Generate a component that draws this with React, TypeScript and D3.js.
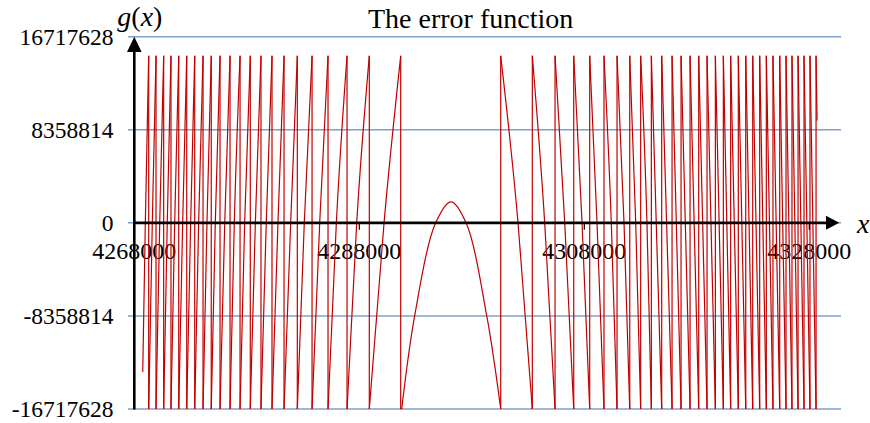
import React from "react";
import * as d3 from "d3";

// ---- data ----
const xTicks = [4268000, 4288000, 4308000, 4328000];
const yTicks = [-16717628, -8358814, 0, 8358814, 16717628];

const toothTop = 15000000;
const toothBottom = -16717628;

const startX = 4268750;
const startY = -13400000;

// x where the curve wraps (vertical drops) on the left of the arch
const leftWrapX = [
  4269280, 4269930, 4270610, 4271260, 4271950, 4272660, 4273370, 4274110,
  4274840, 4275620, 4276510, 4277400, 4278310, 4279260, 4280240, 4281310,
  4282490, 4283800, 4285220, 4286910, 4288890, 4291680,
];
// x where each rising tooth crosses g = 0
const leftCrossX = [
  4268980, 4269600, 4270260, 4270930, 4271590, 4272300, 4273010, 4273720,
  4274460, 4275200, 4276040, 4276890, 4277810, 4278760, 4279730, 4280770,
  4281900, 4283110, 4284480, 4285960, 4287770, 4290200,
];

// central arch
const archX = [4291770, 4292920, 4294790, 4296150, 4297490, 4299330, 4300570];
const archY = [-16717628, -8358814, 0, 1890000, 0, -8358814, -16717628];

// x where the curve wraps (vertical rises) on the right of the arch
const rightWrapX = [
  4300570, 4303380, 4305400, 4307060, 4308480, 4309750, 4310910, 4312040,
  4313010, 4313960, 4314880, 4315800, 4316600, 4317400, 4318170, 4318910,
  4319650, 4320360, 4321010, 4321690, 4322350, 4322970, 4323590, 4324180,
  4324770, 4325370, 4325930, 4326460, 4327000, 4327530, 4328060, 4328600,
];
// x where the wider falling teeth cross g = 0
const rightCrossX = [
  4302110, 4304480, 4306260, 4307800, 4309130, 4310400, 4311530, 4312570,
  4313570,
];

const endX = 4328690;
const endY = 9200000;

const titleText = "The error function";

export default function App() {
  const W = 870;
  const H = 423;
  const x = d3.scaleLinear().domain([4268000, 4328000]).range([134.3, 809.3]);
  const y = d3.scaleLinear().domain([-16717628, 16717628]).range([409, 36.7]);

  const font = "'Times New Roman', 'Liberation Serif', serif";
  const red = "#C00000";
  const grid = "#7F9FCC";

  const toothLine = d3
    .line<[number, number]>()
    .x((d) => x(d[0]))
    .y((d) => y(d[1]))
    .curve(d3.curveMonotoneX);
  const archLine = d3
    .line<[number, number]>()
    .x((d) => x(d[0]))
    .y((d) => y(d[1]))
    .curve(d3.curveCatmullRom);
  const straight = d3
    .line<[number, number]>()
    .x((d) => x(d[0]))
    .y((d) => y(d[1]));

  const paths: string[] = [];
  // left teeth
  leftWrapX.forEach((wx, i) => {
    const x0 = i === 0 ? startX : leftWrapX[i - 1];
    const y0 = i === 0 ? startY : toothBottom;
    const pts: [number, number][] = [
      [x0, y0],
      [leftCrossX[i], 0],
      [wx, toothTop],
    ];
    paths.push(toothLine(pts) as string);
    paths.push(straight([[wx, toothTop], [wx, toothBottom]]) as string);
  });
  // connect to arch
  paths.push(
    straight([
      [leftWrapX[leftWrapX.length - 1], toothBottom],
      [archX[0], archY[0]],
    ]) as string
  );
  paths.push(archLine(archX.map((v, i) => [v, archY[i]] as [number, number])) as string);
  // right teeth
  rightWrapX.forEach((wx, i) => {
    paths.push(straight([[wx, toothBottom], [wx, toothTop]]) as string);
    if (i < rightWrapX.length - 1) {
      const nx = rightWrapX[i + 1];
      const pts: [number, number][] =
        i < rightCrossX.length
          ? [
              [wx, toothTop],
              [rightCrossX[i], 0],
              [nx, toothBottom],
            ]
          : [
              [wx, toothTop],
              [nx, toothBottom],
            ];
      paths.push(toothLine(pts) as string);
    } else {
      paths.push(straight([[wx, toothTop], [endX, endY]]) as string);
    }
  });

  const axisY = y(0);
  const axisX = x(4268000);

  return (
    <svg
      width={W}
      height={H}
      style={{ position: "absolute", left: 0, top: 0, background: "#fff" }}
    >
      {/* grid */}
      {yTicks.map((t) => (
        <line
          key={"g" + t}
          x1={128}
          x2={841}
          y1={y(t)}
          y2={y(t)}
          stroke={grid}
          strokeWidth={1.5}
        />
      ))}
      {/* y tick labels */}
      {yTicks.map((t) => (
        <text
          key={"yl" + t}
          x={113.5}
          y={y(t) + 7.8}
          textAnchor="end"
          fontFamily={font}
          fontSize={23.5}
          fill="#000"
        >
          {String(t)}
        </text>
      ))}
      {/* x tick labels */}
      {xTicks.map((t) => (
        <text
          key={"xl" + t}
          x={x(t)}
          y={259.3}
          textAnchor="middle"
          fontFamily={font}
          fontSize={24}
          fill="#000"
        >
          {String(t)}
        </text>
      ))}
      {/* curve */}
      <g fill="none" stroke={red} strokeWidth={1.2}>
        {paths.map((d, i) => (
          <path key={i} d={d} />
        ))}
      </g>
      {/* axes */}
      <line x1={axisX} x2={828} y1={axisY} y2={axisY} stroke="#000" strokeWidth={2.6} />
      <line x1={axisX} x2={axisX} y1={409.5} y2={48} stroke="#000" strokeWidth={2.6} />
      {xTicks.slice(1).map((t) => (
        <line
          key={"xt" + t}
          x1={x(t)}
          x2={x(t)}
          y1={axisY}
          y2={axisY + 7}
          stroke="#000"
          strokeWidth={1.2}
        />
      ))}
      <path
        d={`M839.3,${axisY} L826,${axisY - 7} L826,${axisY + 7} Z`}
        fill="#000"
      />
      <path d={`M${axisX},36.7 L${axisX - 7.3},52 L${axisX + 7.3},52 Z`} fill="#000" />
      {/* labels */}
      <text x={857} y={233} fontFamily={font} fontSize={28} fontStyle="italic">
        x
      </text>
      <text x={117.3} y={26} fontFamily={font} fontSize={28}>
        <tspan fontStyle="italic">g</tspan>
        <tspan>(</tspan>
        <tspan fontStyle="italic">x</tspan>
        <tspan>)</tspan>
      </text>
      <text x={368} y={27.5} fontFamily={font} fontSize={28}>
        {titleText}
      </text>
    </svg>
  );
}
